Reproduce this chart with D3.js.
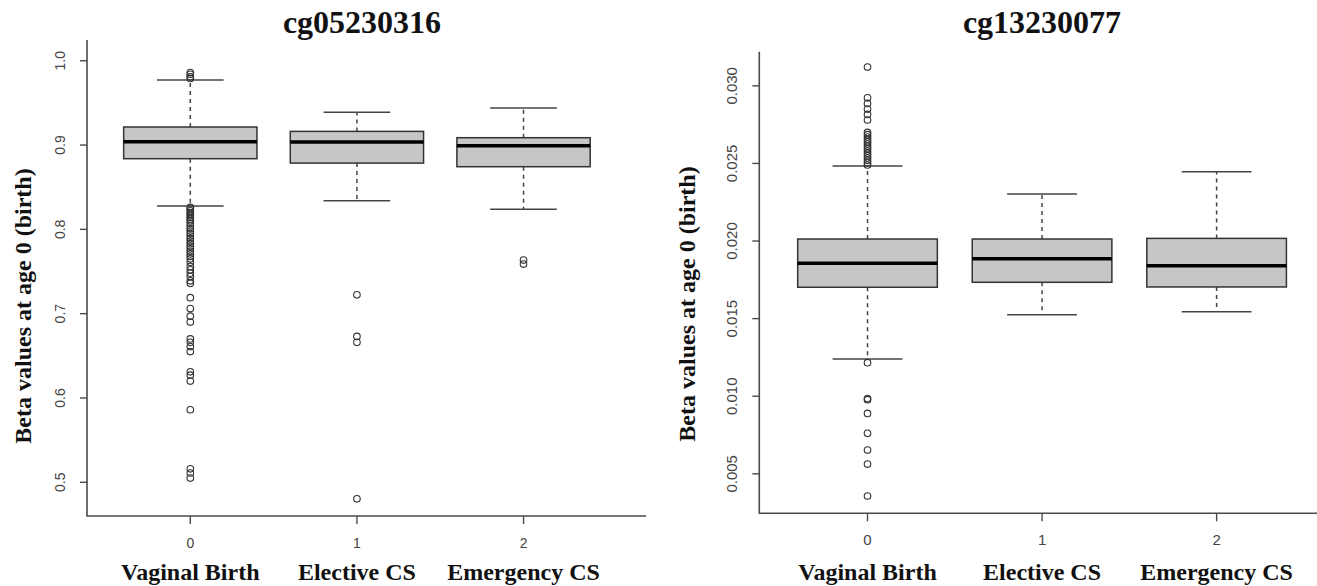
<!DOCTYPE html>
<html>
<head>
<meta charset="utf-8">
<script src="https://cdn.jsdelivr.net/npm/d3@7"></script>
<style>
  html, body { margin: 0; padding: 0; background: #fff; }
  svg { display: block; }
</style>
</head>
<body>
<svg id="chart" width="1317" height="586"></svg>
<script>
// Delivery-mode groups and their numeric codes on the x axis
const categories = ["Vaginal Birth", "Elective CS", "Emergency CS"];
const groupCodes = ["0", "1", "2"];

// cg05230316 — five-number summaries per group
const cg05_lowerWhisker = [0.8276, 0.8339, 0.8237];
const cg05_q1           = [0.8838, 0.8786, 0.8743];
const cg05_median       = [0.9039, 0.9036, 0.8992];
const cg05_q3           = [0.9214, 0.9162, 0.9087];
const cg05_upperWhisker = [0.9771, 0.9388, 0.9439];
// cg05230316 — outlying samples per group
const cg05_outVaginal = [0.986, 0.984, 0.981, 0.979,
  0.826, 0.824, 0.822, 0.820, 0.818, 0.816, 0.814, 0.812, 0.810, 0.807, 0.804,
  0.801, 0.798, 0.795, 0.792, 0.789, 0.786, 0.783, 0.780, 0.777, 0.774, 0.771,
  0.768, 0.765, 0.761, 0.756, 0.752, 0.748, 0.744, 0.739, 0.736,
  0.719, 0.706, 0.697, 0.690, 0.670, 0.666, 0.661, 0.655, 0.631, 0.627, 0.620,
  0.586, 0.516, 0.511, 0.505];
const cg05_outElective = [0.7224, 0.673, 0.666, 0.4804];
const cg05_outEmergency = [0.7636, 0.7588];
const cg05_ticks = [0.5, 0.6, 0.7, 0.8, 0.9, 1.0];
const cg05_tickLabels = ["0.5", "0.6", "0.7", "0.8", "0.9", "1.0"];

// cg13230077 — five-number summaries per group
const cg13_lowerWhisker = [0.01240, 0.01525, 0.01545];
const cg13_q1           = [0.01702, 0.01734, 0.01704];
const cg13_median       = [0.01856, 0.01886, 0.01841];
const cg13_q3           = [0.02013, 0.02013, 0.02017];
const cg13_upperWhisker = [0.02483, 0.02303, 0.02447];
// cg13230077 — outlying samples per group
const cg13_outVaginal = [0.03121, 0.02923, 0.02887, 0.02850, 0.02816, 0.02780,
  0.02700, 0.02685, 0.02670, 0.02655, 0.02640, 0.02625, 0.02610, 0.02595,
  0.02580, 0.02565, 0.02550, 0.02535, 0.02520, 0.02505, 0.02490,
  0.01216, 0.00985, 0.00978, 0.00889, 0.00761, 0.00653, 0.00563, 0.00357];
const cg13_outElective = [];
const cg13_outEmergency = [];
const cg13_ticks = [0.005, 0.010, 0.015, 0.020, 0.025, 0.030];
const cg13_tickLabels = ["0.005", "0.010", "0.015", "0.020", "0.025", "0.030"];

const yTitle = "Beta values at age 0 (birth)";

const svg = d3.select("#chart");
const SERIF = "'Liberation Serif', 'Times New Roman', serif";
const SANS = "'Liberation Sans', Arial, Helvetica, sans-serif";

function buildGroups(lw, q1, med, q3, uw, outs) {
  return categories.map((c, i) => ({
    i, name: c, lw: lw[i], q1: q1[i], med: med[i], q3: q3[i], uw: uw[i], out: outs[i]
  }));
}

function drawPanel(opt) {
  const g = svg.append("g");
  const x = d3.scaleLinear().domain([-0.62, 2.735]).range(opt.xRange);
  const y = d3.scaleLinear().domain(opt.yDomain).range(opt.yRange);
  const [x0, x1] = opt.xRange;
  const [yb, yt] = opt.yRange;
  const boxHalf = x(0.4) - x(0);
  const capHalf = x(0.2) - x(0);

  // L-shaped frame
  g.append("path")
    .attr("d", `M${x0},${yt}V${yb}H${x1}`)
    .attr("fill", "none").attr("stroke", "#4a4a4a").attr("stroke-width", 1.6);

  // y ticks and rotated labels
  const yt_g = g.append("g");
  opt.ticks.forEach((t, k) => {
    yt_g.append("line")
      .attr("x1", x0 - 7).attr("x2", x0).attr("y1", y(t)).attr("y2", y(t))
      .attr("stroke", "#4a4a4a").attr("stroke-width", 1.4);
    yt_g.append("text")
      .attr("transform", `translate(${opt.yTickX},${y(t)}) rotate(-90)`)
      .attr("text-anchor", "middle").attr("dy", "0.35em")
      .attr("font-family", SANS).attr("font-size", opt.tickFont)
      .attr("fill", "#444").text(opt.tickLabels[k]);
  });

  // x ticks, codes and group names
  groupCodes.forEach((code, i) => {
    g.append("line")
      .attr("x1", x(i)).attr("x2", x(i)).attr("y1", yb).attr("y2", yb + 8)
      .attr("stroke", "#4a4a4a").attr("stroke-width", 1.4);
    g.append("text")
      .attr("x", x(i)).attr("y", opt.codeY).attr("text-anchor", "middle").attr("dy", "0.35em")
      .attr("font-family", SANS).attr("font-size", opt.tickFont).attr("fill", "#444")
      .text(code);
    g.append("text")
      .attr("x", x(i)).attr("y", 580).attr("text-anchor", "middle")
      .attr("font-family", SERIF).attr("font-weight", "bold").attr("font-size", 24)
      .attr("fill", "#111").text(categories[i]);
  });

  // boxes
  const groups = g.selectAll("g.box").data(opt.groups).join("g").attr("class", "box");
  // dashed whiskers
  groups.append("line")
    .attr("x1", d => x(d.i)).attr("x2", d => x(d.i))
    .attr("y1", d => y(d.q3)).attr("y2", d => y(d.uw))
    .attr("stroke", "#444").attr("stroke-width", 1.5).attr("stroke-dasharray", "4,4");
  groups.append("line")
    .attr("x1", d => x(d.i)).attr("x2", d => x(d.i))
    .attr("y1", d => y(d.q1)).attr("y2", d => y(d.lw))
    .attr("stroke", "#444").attr("stroke-width", 1.5).attr("stroke-dasharray", "4,4");
  // staples
  groups.append("line")
    .attr("x1", d => x(d.i) - capHalf).attr("x2", d => x(d.i) + capHalf)
    .attr("y1", d => y(d.uw)).attr("y2", d => y(d.uw))
    .attr("stroke", "#444").attr("stroke-width", 1.5);
  groups.append("line")
    .attr("x1", d => x(d.i) - capHalf).attr("x2", d => x(d.i) + capHalf)
    .attr("y1", d => y(d.lw)).attr("y2", d => y(d.lw))
    .attr("stroke", "#444").attr("stroke-width", 1.5);
  // box body
  groups.append("rect")
    .attr("x", d => x(d.i) - boxHalf).attr("width", 2 * boxHalf)
    .attr("y", d => y(d.q3)).attr("height", d => y(d.q1) - y(d.q3))
    .attr("fill", "#c6c6c6").attr("stroke", "#333").attr("stroke-width", 1.5);
  // median
  groups.append("line")
    .attr("x1", d => x(d.i) - boxHalf).attr("x2", d => x(d.i) + boxHalf)
    .attr("y1", d => y(d.med)).attr("y2", d => y(d.med))
    .attr("stroke", "#000").attr("stroke-width", 3.5);
  // outliers
  groups.each(function (d) {
    d3.select(this).selectAll("circle").data(d.out).join("circle")
      .attr("cx", x(d.i)).attr("cy", v => y(v)).attr("r", 3.3)
      .attr("fill", "none").attr("stroke", "#333").attr("stroke-width", 1.1);
  });

  // title
  g.append("text")
    .attr("x", opt.titleX).attr("y", 33).attr("text-anchor", "middle")
    .attr("font-family", SERIF).attr("font-weight", "bold").attr("font-size", 32)
    .attr("fill", "#111").text(opt.title);

  // y axis title
  g.append("text")
    .attr("transform", `translate(${opt.yTitleX},${opt.yTitleY}) rotate(-90)`)
    .attr("text-anchor", "middle")
    .attr("font-family", SERIF).attr("font-weight", "bold").attr("font-size", 24)
    .attr("fill", "#111").text(yTitle);
}

drawPanel({
  title: "cg05230316", titleX: 362,
  xRange: [87, 646], yDomain: [0.46, 1.0246], yRange: [516, 40],
  ticks: cg05_ticks, tickLabels: cg05_tickLabels, tickFont: 14, yTickX: 60, codeY: 543,
  yTitleX: 31, yTitleY: 306,
  groups: buildGroups(cg05_lowerWhisker, cg05_q1, cg05_median, cg05_q3, cg05_upperWhisker,
    [cg05_outVaginal, cg05_outElective, cg05_outEmergency])
});

drawPanel({
  title: "cg13230077", titleX: 1042,
  xRange: [759.3, 1344.9], yDomain: [0.002455, 0.0322], yRange: [513.3, 51.7],
  ticks: cg13_ticks, tickLabels: cg13_tickLabels, tickFont: 15, yTickX: 732, codeY: 540,
  yTitleX: 695, yTitleY: 304,
  groups: buildGroups(cg13_lowerWhisker, cg13_q1, cg13_median, cg13_q3, cg13_upperWhisker,
    [cg13_outVaginal, cg13_outElective, cg13_outEmergency])
});
</script>
</body>
</html>
